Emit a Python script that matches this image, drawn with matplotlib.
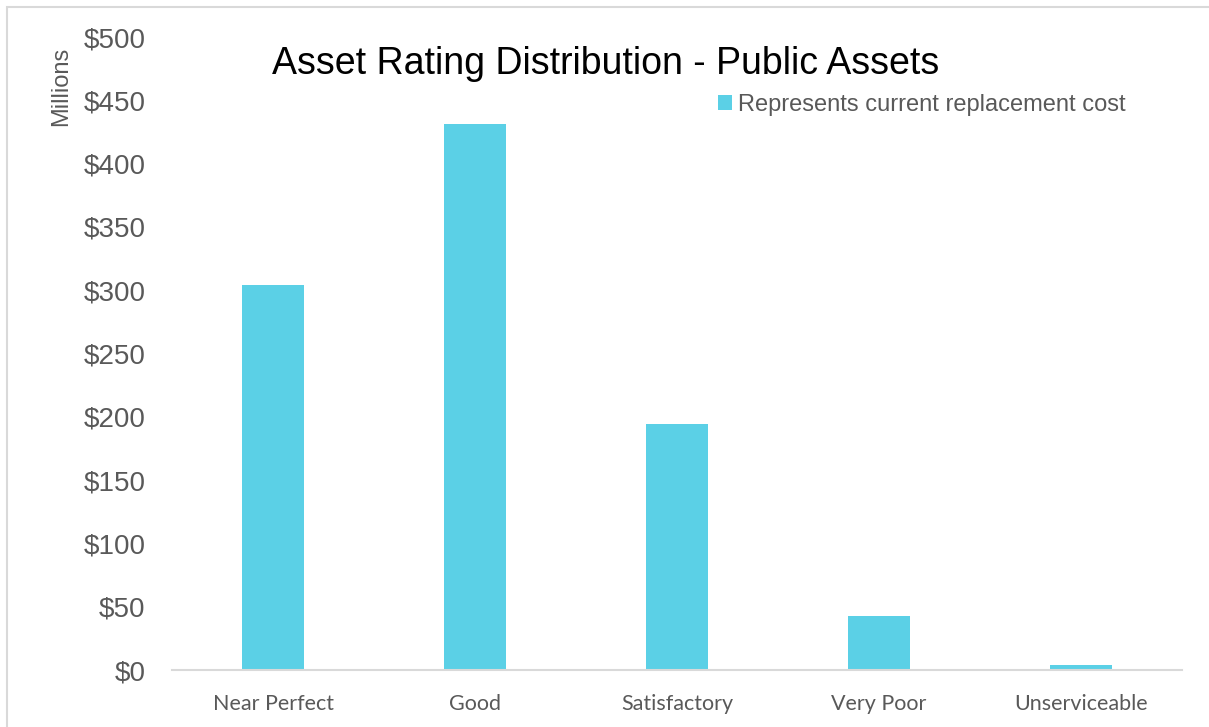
import matplotlib.pyplot as plt
import numpy as np

# data ----------------------------------------------
categories = ["Near Perfect", "Good", "Satisfactory", "Very Poor", "Unserviceable"]
values = [304, 431, 194, 43, 4]          # $ millions
yticks = [0, 50, 100, 150, 200, 250, 300, 350, 400, 450, 500]

bar_color = "#5BD0E6"
grey = "#595959"

fig = plt.figure(figsize=(12.09, 7.27), dpi=100)
ax = fig.add_axes([0.1423, 0.0784, 0.8354, 0.8706])

x = np.arange(len(categories))
ax.bar(x, values, width=0.31, color=bar_color,
       label="Represents current replacement cost", zorder=2)

ax.set_xlim(-0.5, len(categories) - 0.5)
ax.set_ylim(0, 500)
ax.set_yticks(yticks)
ax.set_yticklabels(["$%d" % v for v in yticks], fontsize=20, color=grey,
                   family="Liberation Sans")
ax.set_xticks(x)
ax.set_xticklabels(categories, fontsize=15.5, color=grey, family="Lato")
ax.tick_params(axis="both", length=0)
ax.tick_params(axis="x", pad=17)
ax.tick_params(axis="y", pad=19)

for s in ["top", "right", "left"]:
    ax.spines[s].set_visible(False)
ax.spines["bottom"].set_color("#D9D9D9")
ax.spines["bottom"].set_linewidth(1.5)

fig.text(0.0505, 0.881, "Millions", rotation=90, ha="center", va="center",
         fontsize=17, color=grey, family="Liberation Sans")
fig.text(0.501, 0.912, "Asset Rating Distribution - Public Assets", ha="center",
         va="center", fontsize=27, color="black", family="Liberation Sans")

leg = ax.legend(loc="upper right", bbox_to_anchor=(0.965, 0.944), frameon=False,
                handlelength=0.6, handleheight=0.6, handletextpad=0.25,
                prop={"family": "Liberation Sans", "size": 17})
for t in leg.get_texts():
    t.set_color(grey)

# light frame around the chart area
fig.patches.append(plt.Rectangle((0.006, -0.01), 1.1, 1.0, transform=fig.transFigure,
                                 fill=False, edgecolor="#D9D9D9", linewidth=1.5))

plt.savefig("out.png", dpi=100)
